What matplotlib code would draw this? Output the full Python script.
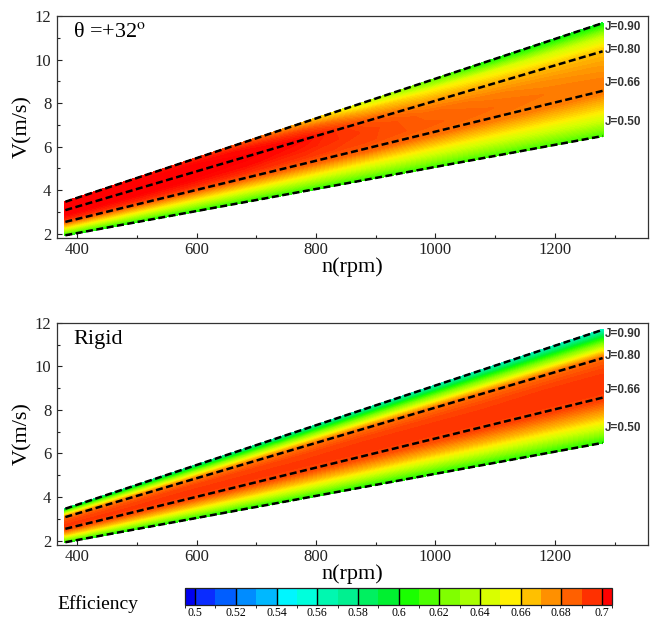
import numpy as np
import matplotlib
matplotlib.use("Agg")
import matplotlib.pyplot as plt
from matplotlib.colors import LinearSegmentedColormap, ListedColormap, BoundaryNorm
from matplotlib.cm import ScalarMappable
from matplotlib.ticker import MultipleLocator

plt.rcParams['font.family'] = ['Liberation Serif', 'DejaVu Serif']
plt.rcParams['mathtext.fontset'] = 'stix'

# ---------------- data ----------------
n_rpm = [380, 480, 580, 680, 780, 880, 980, 1080, 1180, 1280]
J_adv = [0.50, 0.55, 0.60, 0.65, 0.70, 0.75, 0.80, 0.85, 0.90]
D_prop = 0.608  # m, V = J * n * D / 60

# efficiency, rows = J_adv, columns = n_rpm
eta_theta32 = [
    [0.599, 0.601, 0.603, 0.605, 0.606, 0.607, 0.609, 0.610, 0.611, 0.612],
    [0.631, 0.632, 0.633, 0.634, 0.635, 0.636, 0.637, 0.638, 0.639, 0.640],
    [0.656, 0.657, 0.658, 0.659, 0.660, 0.660, 0.660, 0.660, 0.660, 0.660],
    [0.679, 0.680, 0.681, 0.682, 0.683, 0.684, 0.682, 0.680, 0.679, 0.678],
    [0.697, 0.697, 0.697, 0.696, 0.694, 0.691, 0.686, 0.683, 0.680, 0.678],
    [0.705, 0.705, 0.705, 0.704, 0.699, 0.692, 0.684, 0.679, 0.675, 0.672],
    [0.707, 0.707, 0.707, 0.706, 0.703, 0.687, 0.674, 0.668, 0.665, 0.664],
    [0.707, 0.707, 0.706, 0.702, 0.690, 0.668, 0.655, 0.648, 0.642, 0.640],
    [0.705, 0.703, 0.698, 0.686, 0.666, 0.640, 0.618, 0.600, 0.597, 0.596],
]
eta_rigid = [
    [0.600, 0.601, 0.602, 0.602, 0.603, 0.603, 0.604, 0.604, 0.605, 0.605],
    [0.636, 0.636, 0.637, 0.637, 0.638, 0.638, 0.638, 0.639, 0.639, 0.640],
    [0.664, 0.665, 0.665, 0.666, 0.666, 0.667, 0.667, 0.668, 0.668, 0.668],
    [0.686, 0.687, 0.687, 0.688, 0.688, 0.689, 0.689, 0.690, 0.690, 0.690],
    [0.693, 0.693, 0.694, 0.694, 0.694, 0.695, 0.695, 0.695, 0.695, 0.695],
    [0.689, 0.689, 0.690, 0.690, 0.690, 0.691, 0.691, 0.691, 0.692, 0.692],
    [0.675, 0.676, 0.677, 0.678, 0.679, 0.680, 0.680, 0.681, 0.681, 0.682],
    [0.632, 0.632, 0.631, 0.630, 0.629, 0.628, 0.627, 0.626, 0.625, 0.624],
    [0.574, 0.573, 0.571, 0.569, 0.567, 0.565, 0.563, 0.562, 0.561, 0.560],
]

J_lines = [0.90, 0.80, 0.66, 0.50]
J_line_labels = ["J=0.90", "J=0.80", "J=0.66", "J=0.50"]
J_label_V = [11.5, 10.45, 8.9, 7.15]

panel_titles = ["θ =+32$^{\\rm o}$", "Rigid"]

cbar_bounds = [0.495] + [round(0.50 + 0.01 * i, 2) for i in range(21)] + [0.705]
cbar_colors = ['#0000f0', '#0a2cff', '#005eff', '#008cff', '#00b8ff', '#00f6ff',
               '#00ffdc', '#00f8b0', '#00f090', '#00f060', '#00f030', '#1aff00',
               '#4cff00', '#80ff00', '#a8ff00', '#d8ff00', '#fff000', '#ffc000',
               '#ff9000', '#ff6000', '#ff3000', '#ff0000']
cbar_ticks = [0.50, 0.52, 0.54, 0.56, 0.58, 0.60, 0.62, 0.64, 0.66, 0.68, 0.70]

# ---------------- figure ----------------
fig = plt.figure(figsize=(6.5, 6.2), dpi=100)

centres = [(cbar_bounds[i] + cbar_bounds[i + 1]) / 2 for i in range(len(cbar_colors))]
lo, hi = cbar_bounds[0], cbar_bounds[-1]
pos = [(c - lo) / (hi - lo) for c in centres]
pos[0] = 0.0
pos[-1] = 1.0
cmap_cont = LinearSegmentedColormap.from_list('eff', list(zip(pos, cbar_colors)), N=512)

Nm, Jm = np.meshgrid(np.array(n_rpm, float), np.array(J_adv, float))
Vm = Jm * Nm * D_prop / 60.0

levels = np.arange(0.495, 0.7076, 0.0025)

axes_rects = [[0.0877, 0.6161, 0.9092, 0.3581],
              [0.0877, 0.1210, 0.9092, 0.3585]]

for ax_rect, eta, title in zip(axes_rects, [eta_theta32, eta_rigid], panel_titles):
    ax = fig.add_axes(ax_rect)
    cs = ax.contourf(Nm, Vm, np.array(eta), levels=levels, cmap=cmap_cont,
                     vmin=lo, vmax=hi, extend='both')
    cs.set_edgecolor('face')
    cs.set_linewidth(0.6)
    n_end = np.array([n_rpm[0], n_rpm[-1]], float)
    for J, lab, vy in zip(J_lines, J_line_labels, J_label_V):
        ax.plot(n_end, J * n_end * D_prop / 60.0, color='black', lw=1.8,
                linestyle=(0, (2.8, 1.4)))
        ax.text(1284, vy, lab, fontsize=8.5, fontweight='bold', color='#333333',
                family=['Liberation Sans', 'DejaVu Sans'], ha='left', va='center')
    ax.set_xlim(366, 1356)
    ax.set_ylim(1.8, 12)
    ax.xaxis.set_major_locator(MultipleLocator(200))
    ax.xaxis.set_minor_locator(MultipleLocator(100))
    ax.yaxis.set_major_locator(MultipleLocator(2))
    ax.yaxis.set_minor_locator(MultipleLocator(1))
    ax.tick_params(which='both', direction='in', colors='#222222', labelsize=12,
                   top=False, right=False)
    ax.tick_params(which='major', length=3.5, width=0.8)
    ax.tick_params(which='minor', length=2, width=0.8)
    ax.tick_params(axis='x', pad=3)
    ax.tick_params(axis='y', pad=4)
    for sp in ax.spines.values():
        sp.set_color('#333333')
        sp.set_linewidth(0.9)
    ax.set_xlabel('n(rpm)', fontsize=16)
    ax.set_ylabel('V(m/s)', fontsize=16)
    ax.xaxis.set_label_coords(0.5, -0.085)
    ax.yaxis.set_label_coords(-0.042, 0.5)
    ax.text(0.027, 0.925, title, transform=ax.transAxes, fontsize=16,
            ha='left', va='center')

# colour bar
cax = fig.add_axes([0.2846, 0.0240, 0.657, 0.0274])
sm = ScalarMappable(norm=BoundaryNorm(cbar_bounds, len(cbar_colors)),
                    cmap=ListedColormap(cbar_colors))
cb = fig.colorbar(sm, cax=cax, orientation='horizontal', boundaries=cbar_bounds,
                  spacing='proportional', ticks=cbar_ticks)
cb.ax.set_xticklabels(['%g' % t for t in cbar_ticks])
cb.ax.tick_params(direction='in', length=12.3, width=1.0, color='black',
                  labelsize=8.5, pad=1.5)
cb.outline.set_linewidth(0.9)
cb.outline.set_edgecolor('#222222')

fig.text(0.0877, 0.0250, 'Efficiency', fontsize=14, ha='left', va='center')

fig.savefig('out.png', dpi=100)
